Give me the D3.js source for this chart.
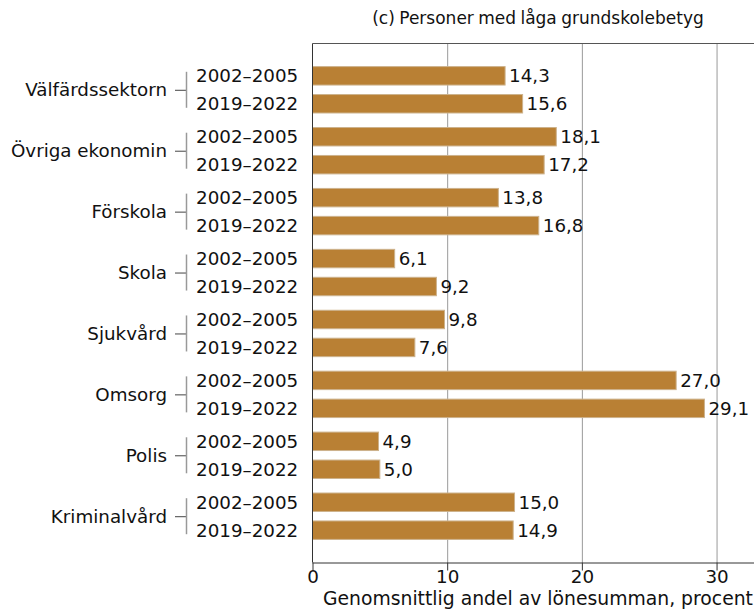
<!DOCTYPE html>
<html>
<head>
<meta charset="utf-8">
<script src="https://cdn.jsdelivr.net/npm/d3@7"></script>
<style>
  body { margin: 0; background: #fff; }
  text { font-family: "DejaVu Sans", "Liberation Sans", Arial, sans-serif; fill: #111; }
</style>
</head>
<body>
<div id="chart"></div>
<script>
/* DATA */
const groups = ["Välfärdssektorn", "Övriga ekonomin", "Förskola", "Skola", "Sjukvård", "Omsorg", "Polis", "Kriminalvård"];
const periods = ["2002–2005", "2019–2022"];
const values2002 = [14.3, 18.1, 13.8, 6.1, 9.8, 27.0, 4.9, 15.0];
const values2019 = [15.6, 17.2, 16.8, 9.2, 7.6, 29.1, 5.0, 14.9];
const xTicks = [0, 10, 20, 30];
const title = "(c)  Personer med låga grundskolebetyg";
const xTitle = "Genomsnittlig andel av lönesumman, procent";

/* CONSTANTS */
const width = 754,
  height = 609,
  margin = { top: 43.5, bottom: 46.5, left: 312.5, right: 0 },
  fontSize = 18.3,
  barColor = "#b98034";

const rows = [];
groups.forEach((g, i) => {
  rows.push({ group: g, period: periods[0], value: values2002[i] });
  rows.push({ group: g, period: periods[1], value: values2019[i] });
});

const svg = d3.select("#chart")
  .append("svg")
  .attr("width", width)
  .attr("height", height);

// SCALES
const xScale = d3.scaleLinear()
  .domain([0, 32.78])
  .range([margin.left, width - margin.right]);

const yGroup = d3.scaleBand()
  .domain(groups)
  .range([margin.top, height - margin.bottom])
  .paddingInner(0)
  .paddingOuter(0.26);

const yPeriod = d3.scaleBand()
  .domain(periods)
  .range([0, yGroup.bandwidth()])
  .paddingInner(0.34)
  .paddingOuter(0.26);

const plotBottom = height - margin.bottom;

// gridlines
svg.append("g")
  .attr("class", "grid")
  .attr("transform", `translate(0, ${plotBottom})`)
  .call(d3.axisBottom(xScale).tickValues(xTicks.slice(1)).tickSize(-(plotBottom - margin.top)).tickFormat(""))
  .call(g => g.select(".domain").remove())
  .call(g => g.selectAll("line").attr("stroke", "#9a9a9a"));

// top border
svg.append("line")
  .attr("x1", margin.left).attr("x2", width)
  .attr("y1", margin.top).attr("y2", margin.top)
  .attr("stroke", "#555");

// BARS
svg.append("g")
  .selectAll("rect")
  .data(rows)
  .join("rect")
  .attr("x", xScale(0))
  .attr("y", d => yGroup(d.group) + yPeriod(d.period))
  .attr("width", d => xScale(d.value) - xScale(0))
  .attr("height", yPeriod.bandwidth())
  .attr("fill", barColor)
  .attr("stroke", "#cdb28c")
  .attr("stroke-width", 1);

// value labels
svg.append("g")
  .selectAll("text")
  .data(rows)
  .join("text")
  .attr("x", d => xScale(d.value) + 4)
  .attr("y", d => yGroup(d.group) + yPeriod(d.period) + yPeriod.bandwidth() / 2)
  .attr("dy", "0.36em")
  .attr("font-size", fontSize)
  .text(d => d3.format(".1f")(d.value).replace(".", ","));

// x axis
svg.append("g")
  .attr("class", "xAxis")
  .attr("transform", `translate(0, ${plotBottom})`)
  .call(d3.axisBottom(xScale).tickValues(xTicks).tickSize(8).tickPadding(0).tickFormat(d3.format("d")))
  .call(g => g.select(".domain").attr("stroke", "#333").attr("d", `M${margin.left},0.5H${width}`))
  .call(g => g.selectAll("line").attr("stroke", "#333"))
  .call(g => g.selectAll("text").attr("font-size", fontSize).attr("font-family", "DejaVu Sans, sans-serif").attr("fill", "#111"));

// left axis line
svg.append("line")
  .attr("x1", margin.left).attr("x2", margin.left)
  .attr("y1", margin.top).attr("y2", plotBottom)
  .attr("stroke", "#333");

// period labels
svg.append("g")
  .selectAll("text")
  .data(rows)
  .join("text")
  .attr("x", 196)
  .attr("y", d => yGroup(d.group) + yPeriod(d.period) + yPeriod.bandwidth() / 2)
  .attr("dy", "0.36em")
  .attr("font-size", fontSize)
  .text(d => d.period);

// group labels with brackets
const gLabels = svg.append("g")
  .selectAll("g")
  .data(groups)
  .join("g")
  .attr("transform", d => `translate(0, ${yGroup(d) + yGroup.bandwidth() / 2})`);

gLabels.append("text")
  .attr("x", 167)
  .attr("dy", "0.36em")
  .attr("text-anchor", "end")
  .attr("font-size", fontSize)
  .text(d => d);

gLabels.append("line")
  .attr("x1", 175).attr("x2", 186)
  .attr("y1", 0.5).attr("y2", 0.5)
  .attr("stroke", "#444");

gLabels.append("line")
  .attr("x1", 186.5).attr("x2", 186.5)
  .attr("y1", -18).attr("y2", 18)
  .attr("stroke", "#999")
  .attr("stroke-width", 1.5);

// titles
svg.append("text")
  .attr("x", 538)
  .attr("y", 24)
  .attr("text-anchor", "middle")
  .attr("font-size", 17)
  .attr("word-spacing", "-1px")
  .text(title);

svg.append("text")
  .attr("x", 753)
  .attr("y", 605)
  .attr("text-anchor", "end")
  .attr("font-size", 18.8)
  .text(xTitle);
</script>
</body>
</html>
